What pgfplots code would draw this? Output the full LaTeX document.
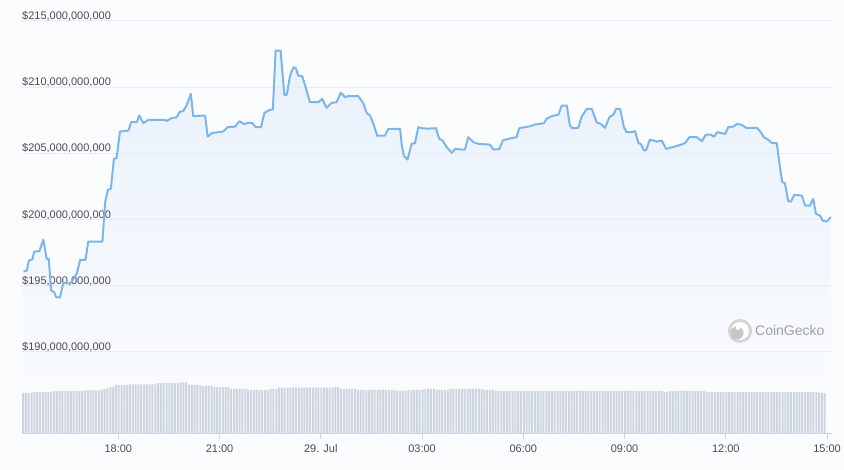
\documentclass[border=0pt]{standalone}
\usepackage{pgfplots}
\pgfplotsset{compat=1.18}
\usepackage{pgfplotstable}
\usepackage{fontspec}
\setmainfont{Liberation Sans}
\definecolor{bgcol}{RGB}{251,252,254}
\definecolor{linecol}{RGB}{124,181,236}
\definecolor{fillcol}{RGB}{233,241,252}
\definecolor{gridcol}{RGB}{233,235,240}
\definecolor{axiscol}{RGB}{204,214,235}
\definecolor{labelcol}{RGB}{75,75,88}
\definecolor{volcol}{RGB}{207,213,222}
\definecolor{logocol}{RGB}{160,160,160}

% hours since 28 Jul 00:00, market cap in billion USD
\pgfplotstableread{
h v
15.19 196.07
15.29 196.15
15.35 196.90
15.45 196.98
15.51 197.58
15.66 197.61
15.78 198.47
15.88 197.03
15.94 197.01
16.01 194.64
16.10 194.52
16.16 194.14
16.27 194.11
16.37 195.22
16.50 195.20
16.57 195.14
16.67 195.52
16.77 195.90
16.87 196.96
17.03 196.96
17.11 198.34
17.53 198.34
17.61 201.31
17.69 202.24
17.78 202.32
17.87 204.58
17.95 204.64
18.05 206.65
18.30 206.72
18.38 207.36
18.55 207.36
18.62 207.86
18.74 207.28
18.89 207.53
19.38 207.53
19.44 207.45
19.58 207.66
19.73 207.73
19.81 208.11
19.93 208.21
20.03 208.66
20.15 209.49
20.22 207.81
20.57 207.86
20.65 206.27
20.77 206.53
21.11 206.65
21.24 206.98
21.46 207.02
21.59 207.43
21.73 207.21
21.85 207.30
21.97 207.30
22.07 206.98
22.23 206.98
22.33 208.06
22.49 208.29
22.58 208.31
22.66 212.76
22.81 212.76
22.92 209.42
22.99 209.42
23.09 210.88
23.19 211.51
23.26 211.44
23.33 210.88
23.45 210.83
23.55 210.00
23.68 208.87
23.93 208.87
24.04 209.12
24.17 208.44
24.32 208.81
24.47 208.87
24.59 209.57
24.72 209.24
24.81 209.32
25.11 209.32
25.26 208.79
25.36 208.04
25.46 207.86
25.56 207.23
25.67 206.34
25.90 206.34
26.00 206.85
26.35 206.85
26.40 205.59
26.46 204.83
26.57 204.53
26.69 205.72
26.79 205.77
26.89 206.98
26.99 206.90
27.19 206.87
27.41 206.90
27.51 206.10
27.61 205.97
27.73 205.47
27.88 205.04
27.98 205.34
28.17 205.29
28.27 205.29
28.37 206.22
28.52 205.85
28.67 205.72
29.01 205.66
29.11 205.29
29.29 205.32
29.39 205.97
29.56 206.10
29.80 206.22
29.88 206.90
30.20 207.05
30.35 207.18
30.61 207.28
30.69 207.61
30.84 207.81
31.04 207.93
31.14 208.61
31.29 208.61
31.38 207.10
31.46 206.90
31.63 206.93
31.73 207.78
31.88 208.36
32.03 208.36
32.17 207.36
32.32 207.18
32.42 206.93
32.55 207.73
32.67 207.93
32.75 208.36
32.87 208.36
32.98 206.98
33.06 206.60
33.21 206.60
33.31 206.68
33.41 205.77
33.48 205.72
33.58 205.21
33.64 205.26
33.75 206.04
33.85 205.97
33.95 205.89
34.10 205.97
34.23 205.34
34.35 205.42
34.59 205.59
34.79 205.77
34.92 206.22
35.14 206.22
35.29 205.92
35.41 206.42
35.55 206.42
35.65 206.27
35.75 206.60
35.88 206.53
35.98 206.47
36.07 206.98
36.22 207.02
36.34 207.23
36.47 207.15
36.62 206.90
36.81 206.93
36.92 206.93
37.01 206.68
37.13 206.22
37.26 206.02
37.36 205.79
37.51 205.77
37.59 204.21
37.67 202.82
37.75 202.75
37.85 201.39
37.93 201.36
38.03 201.87
38.25 201.81
38.35 201.06
38.49 201.06
38.59 201.56
38.67 200.43
38.79 200.30
38.87 199.92
38.99 199.85
39.11 200.18
}\pricetable

% 24h volume, one bar every 5 minutes (arbitrary units)
\pgfplotstableread[row sep=\\,header=false]{
10.25\\10.25\\10.25\\10.25\\
10.5\\10.5\\10.5\\10.5\\10.5\\10.5\\10.5\\
10.7\\10.7\\10.7\\10.7\\10.7\\10.7\\10.7\\10.7\\10.7\\10.7\\10.7\\
10.9\\10.9\\10.9\\10.9\\10.9\\10.9\\
11.1\\11.3\\11.5\\11.7\\11.8\\
12.2\\12.2\\12.2\\12.2\\12.2\\
12.4\\12.4\\12.4\\12.4\\12.4\\12.4\\12.4\\12.4\\12.4\\12.4\\
12.7\\12.7\\12.7\\12.7\\12.7\\12.7\\12.7\\12.7\\
12.9\\12.9\\12.9\\
12.25\\12.25\\12.25\\12.25\\12.25\\
12.0\\12.0\\12.0\\12.0\\
11.7\\11.7\\11.7\\11.7\\11.7\\11.7\\
11.25\\11.25\\11.25\\11.25\\11.25\\11.25\\
11.0\\11.0\\11.0\\11.0\\11.0\\11.0\\11.0\\11.0\\
11.25\\11.25\\11.25\\
11.6\\11.6\\11.6\\11.6\\11.6\\11.6\\11.6\\11.6\\11.6\\11.6\\11.6\\11.6\\11.6\\11.6\\11.6\\11.6\\11.6\\11.6\\11.6\\11.6\\
11.7\\11.7\\
11.25\\11.25\\11.25\\11.25\\11.25\\11.25\\
11.0\\11.0\\11.0\\11.0\\11.0\\11.0\\11.0\\11.0\\11.0\\11.0\\11.0\\11.0\\11.0\\11.0\\
10.75\\10.75\\10.75\\10.75\\
11.0\\11.0\\11.0\\11.0\\11.0\\11.0\\
11.25\\11.25\\11.25\\11.25\\
11.0\\11.0\\11.0\\11.0\\11.0\\
11.25\\11.25\\11.25\\11.25\\11.25\\11.25\\11.25\\11.25\\11.25\\11.25\\11.25\\11.25\\
11.0\\11.0\\11.0\\11.0\\
10.75\\10.75\\10.75\\10.75\\10.75\\10.75\\10.75\\10.75\\10.75\\10.75\\
10.75\\10.75\\10.75\\10.75\\10.75\\10.75\\10.75\\10.75\\10.75\\10.75\\
10.75\\10.75\\10.75\\10.75\\10.75\\10.75\\10.75\\10.75\\10.75\\10.75\\
10.75\\10.75\\10.75\\10.75\\10.75\\10.75\\10.75\\10.75\\10.75\\10.75\\
10.75\\10.75\\10.75\\10.75\\10.75\\10.75\\10.75\\10.75\\10.75\\10.75\\
10.75\\10.75\\10.75\\10.75\\10.75\\10.75\\10.75\\10.75\\10.75\\10.75\\
10.5\\10.5\\
10.75\\10.75\\10.75\\10.75\\10.75\\10.75\\10.75\\10.75\\10.75\\10.75\\10.75\\10.75\\10.75\\
10.5\\10.5\\10.5\\10.5\\10.5\\10.5\\10.5\\10.5\\10.5\\10.5\\
10.5\\10.5\\10.5\\10.5\\10.5\\10.5\\10.5\\10.5\\10.5\\10.5\\
10.5\\10.5\\10.5\\10.5\\10.5\\10.5\\10.5\\10.5\\10.5\\10.5\\
10.5\\10.5\\10.5\\10.5\\10.5\\10.5\\10.5\\10.5\\10.5\\10.5\\
10.25\\10.25\\10.25\\
}\voltable

\pgfplotsset{
  common/.style={
    at={(22pt,36pt)}, anchor=south west, scale only axis,
    width=810pt, height=413pt, xmin=15.147, xmax=39.146,
  }
}

\begin{document}
\begin{tikzpicture}[x=1pt,y=1pt]
\useasboundingbox (0,0) rectangle (844,470);
\fill[bgcol] (0,0) rectangle (844,470);

% area fill under the price line (shifted so the fill closes at the axis bottom)
\begin{axis}[common, hide axis, ymin=0, ymax=31.2]
\addplot[draw=none, top color=fillcol, bottom color=bgcol]
  table[x=h, y expr=\thisrow{v}-183.8] {\pricetable} \closedcycle;
\end{axis}

% volume bars
\begin{axis}[common, hide axis, ymin=0, ymax=103.25, ybar, bar width=2pt]
\addplot[fill=volcol, draw=none, bar shift=0pt]
  table[x expr=15.18+\coordindex/12, y index=0] {\voltable};
\end{axis}

% main price axis
\begin{axis}[common, ymin=183.8, ymax=215,
  axis x line*=bottom, axis y line*=left,
  x axis line style={draw=axiscol, line width=1pt},
  y axis line style={draw=none},
  ymajorgrids, grid style={draw=gridcol, line width=1pt},
  ytick={190,195,200,205,210,215},
  yticklabels={{\$190,000,000,000},{\$195,000,000,000},{\$200,000,000,000},{\$205,000,000,000},{\$210,000,000,000},{\$215,000,000,000}},
  ytick style={draw=none},
  yticklabel style={anchor=base west, inner sep=0pt, xshift=5pt, yshift=1.5pt,
    font=\fontsize{11}{13}\selectfont, text=labelcol},
  xtick={18,21,24,27,30,33,36,39},
  xticklabels={18:00,21:00,29. Jul,03:00,06:00,09:00,12:00,15:00},
  xtick style={draw=axiscol, line width=1pt},
  tick align=outside, major tick length=5pt,
  xticklabel style={anchor=base, inner sep=0pt, yshift=-14pt,
    font=\fontsize{11}{13}\selectfont, text=labelcol},
]
\addplot[linecol, line width=2pt, line join=round, no marks]
  table[x=h, y=v] {\pricetable};
\end{axis}

% watermark
\fill[logocol!45] (740,139) circle (12);
\fill[white] (740,139) circle (9);
\fill[logocol!60] (737,137) circle (6.5);
\fill[white] (738,142) circle (2.2);
\node[anchor=west, inner sep=0pt, text=logocol, font=\fontsize{14}{16}\selectfont] at (755,139) {CoinGecko};
\end{tikzpicture}
\end{document}
